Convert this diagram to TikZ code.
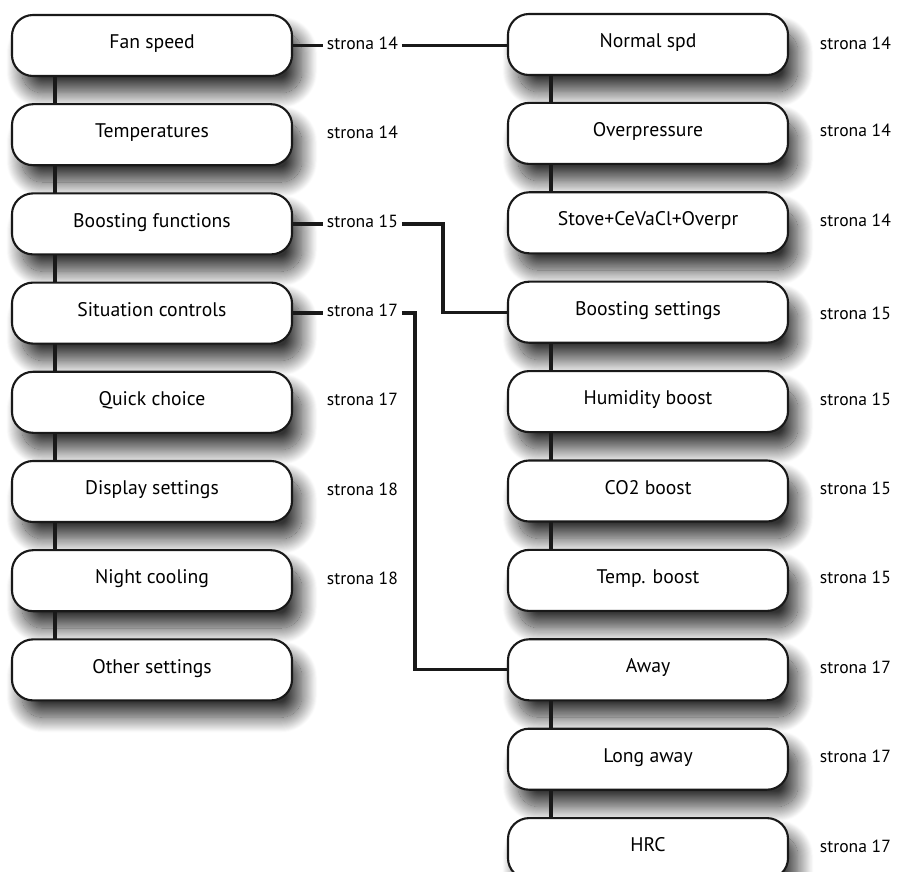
\documentclass[tikz,border=0pt]{standalone}
\usepackage{fontspec}
\setmainfont{PT Sans}
\usetikzlibrary{shadows.blur}

\begin{document}
\begin{tikzpicture}[x=0.025cm,y=0.025cm,
    menubox/.style={draw=black!90,line width=1.5pt,fill=white,rounded corners=15pt,
      minimum width=7cm,minimum height=1.525cm,inner sep=0pt,outer sep=0pt,
      text height=0.75em,text depth=0.3em,font=\fontsize{14}{16}\selectfont,
      blur shadow={shadow xshift=7pt,shadow yshift=-12pt,shadow blur radius=11pt,
        shadow blur steps=30,shadow opacity=80}},
    pagelabel/.style={anchor=west,fill=white,inner sep=2.8pt,outer sep=0pt,
      text height=0.75em,text depth=0.25em,font=\fontsize{12.5}{14}\selectfont},
    link/.style={line width=2.4pt,black!90}]
                \useasboundingbox (0,0) rectangle (900,-872);
                \node [menubox] (fan) at (152,-45.5) {Fan speed};
                \node [menubox] (temp) at (152,-134.7) {Temperatures};
                \node [menubox] (boost) at (152,-223.9) {Boosting functions};
                \node [menubox] (situ) at (152,-313.1) {Situation controls};
                \node [menubox] (quick) at (152,-402.3) {Quick choice};
                \node [menubox] (disp) at (152,-491.5) {Display settings};
                \node [menubox] (night) at (152,-580.7) {Night cooling};
                \node [menubox] (other) at (152,-669.9) {Other settings};
                \node [menubox] (normal) at (648,-44.5) {Normal spd};
                \node [menubox] (overp) at (648,-133.4) {Overpressure};
                \node [menubox] (stove) at (648,-222.8) {Stove+CeVaCl+Overpr};
                \node [menubox] (bset) at (648,-312.2) {Boosting settings};
                \node [menubox] (humid) at (648,-401.6) {Humidity boost};
                \node [menubox] (cotwo) at (648,-491) {CO2 boost};
                \node [menubox] (tboost) at (648,-580.4) {Temp. boost};
                \node [menubox] (away) at (648,-669.8) {Away};
                \node [menubox] (longaway) at (648,-759.2) {Long away};
                \node [menubox] (hrc) at (648,-848.6) {HRC};
                \node [pagelabel] (lfan) at (323,-45.5) {strona 14};
                \node [pagelabel] (ltemp) at (323,-134.7) {strona 14};
                \node [pagelabel] (lboost) at (323,-223.9) {strona 15};
                \node [pagelabel] (lsitu) at (323,-313.1) {strona 17};
                \node [pagelabel] (lquick) at (323,-402.3) {strona 17};
                \node [pagelabel] (ldisp) at (323,-491.5) {strona 18};
                \node [pagelabel] (lnight) at (323,-580.7) {strona 18};
                \node [pagelabel] (lnormal) at (816,-46) {strona 14};
                \node [pagelabel] (loverp) at (816,-133.4) {strona 14};
                \node [pagelabel] (lstove) at (816,-222.8) {strona 14};
                \node [pagelabel] (lbset) at (816,-316) {strona 15};
                \node [pagelabel] (lhumid) at (816,-401.6) {strona 15};
                \node [pagelabel] (lcotwo) at (816,-491) {strona 15};
                \node [pagelabel] (ltboost) at (816,-580.4) {strona 15};
                \node [pagelabel] (laway) at (816,-669.8) {strona 17};
                \node [pagelabel] (llongaway) at (816,-759.2) {strona 17};
                \node [pagelabel] (lhrc) at (816,-848.6) {strona 17};
                \coordinate (kneeb) at (443,-223.9);
                \coordinate (kneea) at (415,-313.1);
                \draw [link] (fan.east) -- (lfan.west);
                \draw [link] (lfan.east) -- (lfan.east -| normal.west);
                \draw [link] (boost.east) -- (lboost.west);
                \draw [link] (lboost.east) -- (kneeb) |- (bset.west);
                \draw [link] (situ.east) -- (lsitu.west);
                \draw [link] (lsitu.east) -- (kneea) |- (away.west);
                \draw [link] ([xshift=30.6pt]fan.south west) -- ([xshift=30.6pt]temp.north west);
                \draw [link] ([xshift=30.6pt]temp.south west) -- ([xshift=30.6pt]boost.north west);
                \draw [link] ([xshift=30.6pt]boost.south west) -- ([xshift=30.6pt]situ.north west);
                \draw [link] ([xshift=30.6pt]situ.south west) -- ([xshift=30.6pt]quick.north west);
                \draw [link] ([xshift=30.6pt]quick.south west) -- ([xshift=30.6pt]disp.north west);
                \draw [link] ([xshift=30.6pt]disp.south west) -- ([xshift=30.6pt]night.north west);
                \draw [link] ([xshift=30.6pt]night.south west) -- ([xshift=30.6pt]other.north west);
                \draw [link] ([xshift=30.6pt]normal.south west) -- ([xshift=30.6pt]overp.north west);
                \draw [link] ([xshift=30.6pt]overp.south west) -- ([xshift=30.6pt]stove.north west);
                \draw [link] ([xshift=30.6pt]bset.south west) -- ([xshift=30.6pt]humid.north west);
                \draw [link] ([xshift=30.6pt]humid.south west) -- ([xshift=30.6pt]cotwo.north west);
                \draw [link] ([xshift=30.6pt]cotwo.south west) -- ([xshift=30.6pt]tboost.north west);
                \draw [link] ([xshift=30.6pt]away.south west) -- ([xshift=30.6pt]longaway.north west);
                \draw [link] ([xshift=30.6pt]longaway.south west) -- ([xshift=30.6pt]hrc.north west);
            \end{tikzpicture}
\end{document}
